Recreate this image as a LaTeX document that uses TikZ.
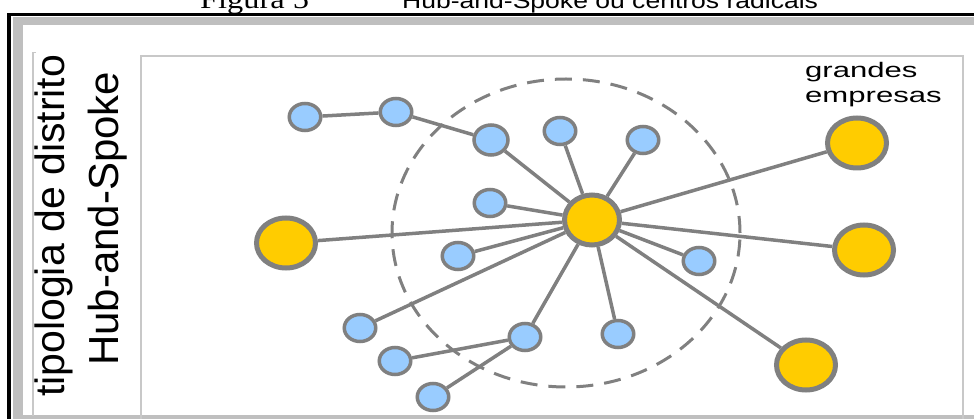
\documentclass[tikz,border=0pt]{standalone}
\usepackage{fontspec}
\usepackage{graphicx}
\usetikzlibrary{shapes.geometric}
\newfontfamily\arialf{Liberation Sans}
\newfontfamily\timesf{Liberation Serif}
\definecolor{hubyellow}{HTML}{FFCC00}
\definecolor{leafblue}{HTML}{99CCFF}
\definecolor{linkgray}{HTML}{808080}
\definecolor{bandgray}{HTML}{BFBFBF}
\definecolor{rulegray}{HTML}{C8C8C8}
\tikzset{
  bignode/.style={ellipse, draw=linkgray, fill=hubyellow, line width=5pt,
    minimum width=59pt, minimum height=50pt, inner sep=0pt},
  hubnode/.style={bignode, minimum width=55pt, minimum height=50pt},
  leaf/.style={ellipse, draw=linkgray, fill=leafblue, line width=3.5pt,
    minimum width=31.5pt, minimum height=27pt, inner sep=0pt},
  link/.style={draw=linkgray, line width=3.5pt},
  ring/.style={ellipse, draw=linkgray, line width=3pt,
    dash pattern=on 17pt off 11pt, minimum width=348pt, minimum height=308pt,
    inner sep=0pt},
  label/.style={inner sep=0pt, text=black},
}
\begin{document}
\begin{tikzpicture}[x=1pt,y=-1pt]
\useasboundingbox (0,0) rectangle (974,419);
\clip (0,0) rectangle (974,419);

% page and frame
\fill[white] (0,0) rectangle (974,419);
\draw[black, line width=3.4pt] (9,14.4) rectangle (1010,440);
\fill[bandgray] (12.7,17) rectangle (1000,430);
\fill[white] (22.7,25) rectangle (990,415);

% caption (runs off the top edge)
\node[label, anchor=base west] (fig) at (200,8.5)
  {\timesf\fontsize{27}{27}\selectfont\scalebox{1.2}[1]{Figura 5}};
\node[label, anchor=base west] (title) at (402,8.5)
  {\arialf\fontsize{22}{22}\selectfont\scalebox{1.206}[1]{Hub-and-Spoke ou centros radicais}};

% side label box and diagram panel
\draw[rulegray, line width=1.5pt] (36,52.5) -- (33,52.5) -- (33,416);
\draw[rulegray, line width=2pt] (140.5,56.5) rectangle (963,430);

% vertical labels
\node[label, rotate=90, anchor=base west] (typo) at (64,397)
  {\arialf\fontsize{41}{41}\selectfont tipologia de distrito};
\node[label, rotate=90, anchor=base west] (hubspoke) at (118,366)
  {\arialf\fontsize{42}{42}\selectfont Hub-and-Spoke};

% label for the large firms
\node[label, anchor=base west] (grandes) at (805,78)
  {\arialf\fontsize{21}{21}\selectfont\scalebox{1.48}[1]{grandes}};
\node[label, anchor=base west] (empresas) at (805,103)
  {\arialf\fontsize{21}{21}\selectfont\scalebox{1.48}[1]{empresas}};

% dashed boundary of the district
\node[ring] (ring) at (566,233) {};

% hub and large firms
\node[hubnode] (hub) at (592,220) {};
\node[bignode] (bigL)  at (286,243) {};
\node[bignode] (bigTR) at (857,143) {};
\node[bignode] (bigR)  at (864,250) {};
\node[bignode] (bigBR) at (806,365) {};

% small firms
\node[leaf] (a) at (305,117) {};
\node[leaf] (b) at (396,112) {};
\node[leaf, minimum width=34pt, minimum height=30pt] (c) at (491,140) {};
\node[leaf] (d) at (560,131) {};
\node[leaf] (e) at (643,140) {};
\node[leaf] (f) at (490,203) {};
\node[leaf] (g) at (458,256) {};
\node[leaf] (h) at (699,261) {};
\node[leaf] (i) at (360,328) {};
\node[leaf] (j) at (395,361) {};
\node[leaf] (k) at (433,397) {};
\node[leaf] (l) at (525,337) {};
\node[leaf] (m) at (618,334) {};

% links
\path[link] (a) -- (b);
\path[link] (b) -- (c);
\foreach \n in {c,d,e,f,g,h,i,l,m,bigL,bigTR,bigR,bigBR}
  \path[link] (hub) -- (\n);
\path[link] (j) -- (l);
\path[link] (k) -- (l);
\end{tikzpicture}
\end{document}
